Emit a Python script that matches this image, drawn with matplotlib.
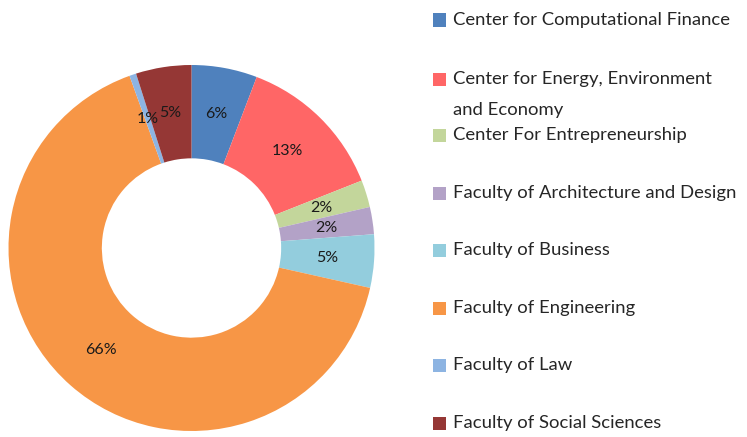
import matplotlib
matplotlib.use("Agg")
import matplotlib.pyplot as plt
from matplotlib.patches import Rectangle

categories = [
    "Center for Computational Finance",
    "Center for Energy, Environment\nand Economy",
    "Center For Entrepreneurship",
    "Faculty of Architecture and Design",
    "Faculty of Business",
    "Faculty of Engineering",
    "Faculty of Law",
    "Faculty of Social Sciences",
]
shares = [5.8, 13.2, 2.4, 2.4, 4.7, 66.0, 0.6, 4.9]
colors = ["#4F81BD", "#FF6666", "#C3D69B", "#B3A2C7",
          "#93CDDD", "#F79646", "#8DB4E2", "#953735"]

W, H = 747, 437
fig = plt.figure(figsize=(W / 100, H / 100), dpi=100)

cx, cy, R = 191.5, 248, 183
ax = fig.add_axes([(cx - R) / W, (H - cy - R) / H, 2 * R / W, 2 * R / H])
wedges, texts, autotexts = ax.pie(
    shares, colors=colors, startangle=90, counterclock=False,
    radius=1.0, autopct="%.0f%%", pctdistance=0.745,
    wedgeprops=dict(width=0.51, linewidth=0),
    textprops=dict(fontsize=11.5, color="#1a1a1a", family="Lato"))
ax.set_xlim(-1, 1)
ax.set_ylim(-1, 1)
ax.axis("off")

# manual legend
row_y = [20, 79, 135, 193, 250, 308, 365, 423]
line_gap = 31
for lab, col, y in zip(categories, colors, row_y):
    fig.patches.append(Rectangle((433 / W, (H - y - 6.5) / H), 13 / W, 13 / H,
                                 transform=fig.transFigure, facecolor=col,
                                 edgecolor="none"))
    for k, line in enumerate(lab.split("\n")):
        fig.text(453 / W, (H - y - k * line_gap) / H, line, ha="left", va="center",
                 fontsize=13.3, family="Lato", color="#262626")

fig.savefig("out.png", dpi=100)
